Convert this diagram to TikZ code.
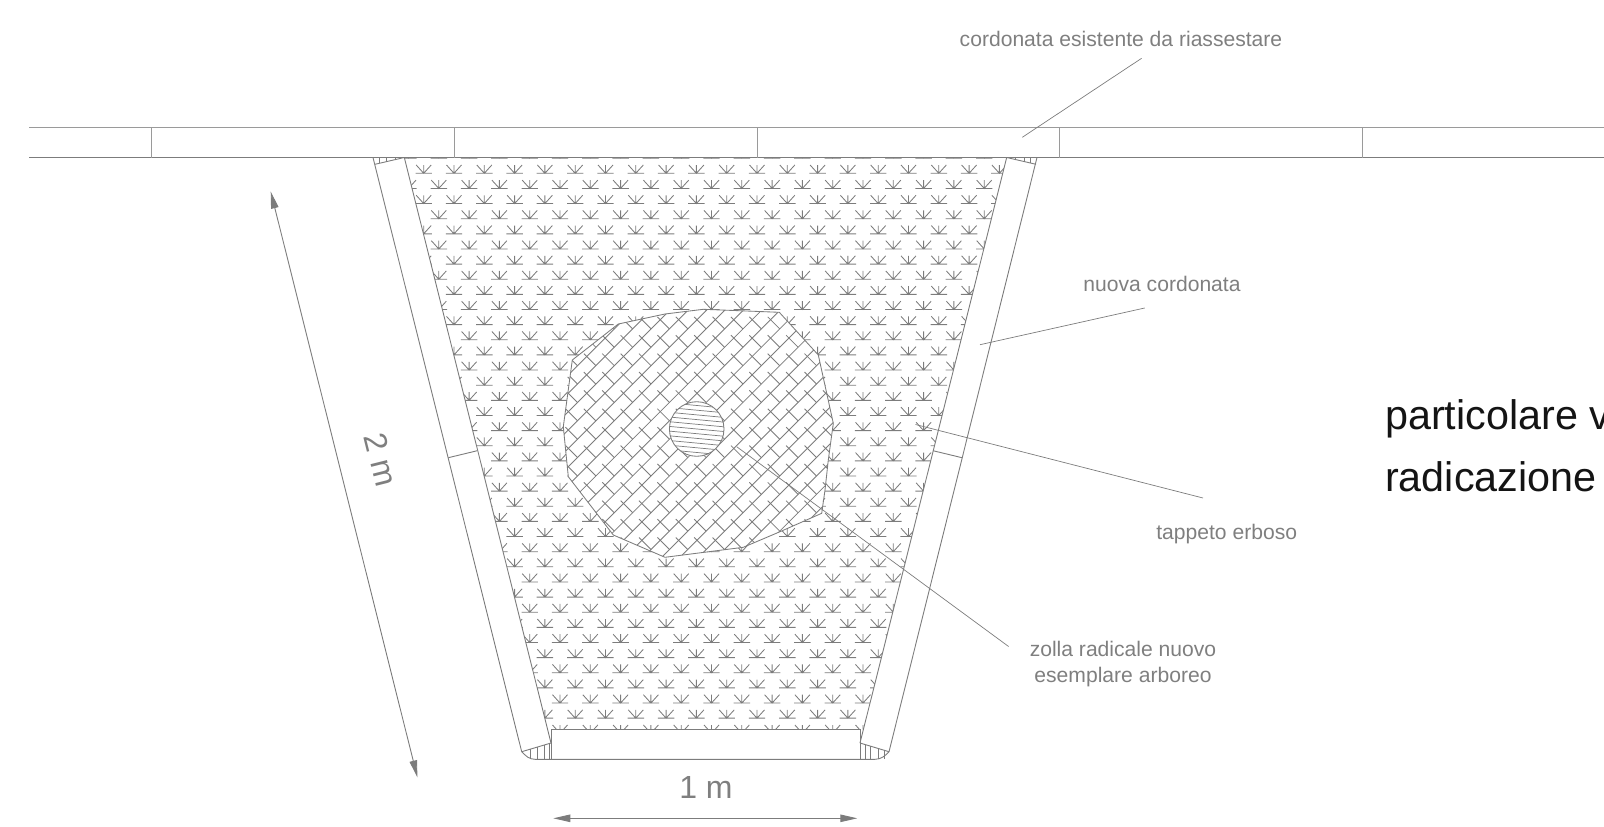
\documentclass[tikz,border=0pt]{standalone}
\usepackage{fontspec}
\setmainfont{Liberation Sans}
\usetikzlibrary{arrows.meta,calc}
\definecolor{ln}{HTML}{7C7C7C}
\definecolor{lnl}{HTML}{9A9A9A}
\definecolor{tx}{HTML}{7F7F7F}
\tikzset{
  wall/.style={draw=ln,line width=0.9pt},
  kerb/.style={draw=lnl,line width=1pt},
  thin/.style={draw=ln,line width=0.85pt},
  grass/.style={draw=ln,line width=0.85pt},
  leader/.style={draw=ln,line width=0.7pt},
  dim/.style={draw=ln,line width=0.9pt,{Triangle[length=17pt,width=7.5pt,fill=ln]}-{Triangle[length=17pt,width=7.5pt,fill=ln]}},
  lab/.style={text=tx,inner sep=0pt,anchor=base,font=\fontsize{21.1}{26}\selectfont},
  big/.style={text=tx,inner sep=0pt,anchor=base,font=\fontsize{32}{38}\selectfont},
  title/.style={text=black!92,inner sep=0pt,anchor=base west,font=\fontsize{41.3}{50}\selectfont},
}
\begin{document}
\begin{tikzpicture}[x=1pt,y=-1pt]
\useasboundingbox (0,0) rectangle (1604,827);
% grass pattern
\begin{scope}
  \clip (404.3,157.5) -- (1006.7,157.5) -- (863.4,729.3) -- (547.6,729.3) -- cycle;
  \foreach \r in {-1,...,37}{
    \pgfmathsetmacro{\yy}{173.3+15.135*\r}
    \pgfmathsetmacro{\xs}{isodd(\r) ? 408.5 : 393.4}
    \foreach \c in {0,...,21}{
      \pgfmathsetmacro{\xx}{\xs+30.3*\c}
      \draw[grass] (\xx-8.2,\yy) -- (\xx+8.2,\yy)
        (\xx-7.5,\yy-8.3) -- (\xx,\yy) -- (\xx+7.5,\yy-8.3)
        (\xx,\yy) -- (\xx,\yy-8.3);
    }
  }
\end{scope}
% root ball
\fill[white] (618.3,324) -- (665,314) -- (703.3,309.3) -- (746.7,311) -- (779.3,312.3) -- (818.3,355) -- (833.3,423.3) -- (828.3,460) -- (825,490) -- (821.7,513.3) -- (780,531.7) -- (743.3,547.3) -- (665,557.3) -- (613.3,535) -- (568.3,476.7) -- (563.3,426.7) -- (572.3,360) -- cycle;
\begin{scope}
  \clip (618.3,324) -- (665,314) -- (703.3,309.3) -- (746.7,311) -- (779.3,312.3) -- (818.3,355) -- (833.3,423.3) -- (828.3,460) -- (825,490) -- (821.7,513.3) -- (780,531.7) -- (743.3,547.3) -- (665,557.3) -- (613.3,535) -- (568.3,476.7) -- (563.3,426.7) -- (572.3,360) -- cycle;
  \begin{scope}[shift={(697,430)},x={(0.7071pt,0.7071pt)},y={(0.7071pt,-0.7071pt)}]
    \foreach \k in {-18,...,18}{
      \pgfmathsetmacro{\v}{\k*13}
      \pgfmathsetmacro{\vv}{(\k+1)*13}
      \draw[thin] (-230,\v) -- (230,\v);
      \foreach \j in {-12,...,12}{
        \pgfmathsetmacro{\u}{\j*26+\k*13}
        \draw[thin] (\u,\v-4) -- (\u,\vv);
      }
    }
  \end{scope}
\end{scope}
\draw[thin] (618.3,324) -- (665,314) -- (703.3,309.3) -- (746.7,311) -- (779.3,312.3) -- (818.3,355) -- (833.3,423.3) -- (828.3,460) -- (825,490) -- (821.7,513.3) -- (780,531.7) -- (743.3,547.3) -- (665,557.3) -- (613.3,535) -- (568.3,476.7) -- (563.3,426.7) -- (572.3,360) -- cycle;
% stem
\coordinate (stem) at (696.7,429);
\fill[white] (stem) circle (27.3);
\begin{scope}
  \clip (stem) circle (27.3);
  \foreach \k in {-7,...,7}{
    \pgfmathsetmacro{\ya}{429+\k*4.7-3}
    \pgfmathsetmacro{\yb}{429+\k*4.7+3}
    \draw[draw=ln,line width=0.7pt] (665,\ya) -- (729,\yb);
  }
\end{scope}
\draw[thin] (stem) circle (27.3);
% existing kerb
\draw[kerb] (29,127) -- (1604,127);
\draw[wall] (29,157.5) -- (1604,157.5);
\foreach \x in {151.4,454,757,1059,1362}{\draw[kerb] (\x,127) -- (\x,157.5);}
% new kerb
\draw[wall] (373,157.5) -- (521.7,751.7);
\draw[wall] (404.3,157.5) -- (551,743);
\draw[wall] (1037,157.5) -- (889,751.7);
\draw[wall] (1006.7,157.5) -- (860,743);
\draw[wall] (375,164.3) -- (404.3,157.5);
\draw[wall] (1036,164.3) -- (1006.7,157.5);
\draw[wall] (521.7,751.7) -- (551,743);
\draw[wall] (889,751.7) -- (860,743);
\draw[wall] (448.3,457.7) -- (477.3,450.7);
\draw[wall] (933,450.7) -- (962,457.7);
% bottom kerb
\draw[wall] (551,729.3) -- (860,729.3) -- (860,759.3);
\draw[wall] (551,729.3) -- (551,759.3);
\draw[wall] (521.7,751.7) .. controls (526,756) and (529,759.3) .. (535,759.3) -- (875,759.3) .. controls (881,759.3) and (885,756) .. (889,751.7);
% end hatches
\foreach \x/\y in {379.3/163.3,386.7/161.6,395/159.7,1015/159.5,1024/161.6,1030.7/163.1}{\draw[thin] (\x,157.5) -- (\x,\y);}
\foreach \x/\y in {530.7/749.1,537.3/747.1,544/745.1,549.3/743.5,865/744.5,870.7/746.2,878/748.4,884/750.2}{\draw[thin] (\x,\y) -- (\x,759.3);}
% dimensions
\coordinate (d2a) at (270.7,191.5);
\coordinate (d2b) at (417.4,777.4);
\coordinate (d1a) at (553.3,818.3);
\coordinate (d1b) at (857.3,818.3);
\draw[dim] (d2a) -- (d2b);
\draw[dim] (d1a) -- (d1b);
\node[big] (m1) at (706,798.3) {1 m};
\node[big,anchor=center,rotate=-76] (m2) at (381,459.5) {2 m};
% labels and leaders
\node[lab] (l1) at (1121,46) {cordonata esistente da riassestare};
\coordinate (l1s) at (1141.6,58.3);
\coordinate (l1e) at (1022.3,137.3);
\draw[leader] (l1s) -- (l1e);
\node[lab] (l2) at (1162,291.5) {nuova cordonata};
\coordinate (l2s) at (1144.7,308);
\coordinate (l2e) at (980,344.7);
\draw[leader] (l2s) -- (l2e);
\node[lab] (l3) at (1226.7,539) {tappeto erboso};
\coordinate (l3s) at (1203,498);
\coordinate (l3e) at (915.5,424.5);
\draw[leader] (l3s) -- (l3e);
\node[lab,anchor=center,align=center] (l4) at (1123,664.5) {zolla radicale nuovo\\esemplare arboreo};
\coordinate (l4s) at (1008.6,646.5);
\coordinate (l4e) at (736.7,446.7);
\draw[leader] (l4s) -- (l4e);
% title
\node[title] (t1) at (1385,429.5) {particolare v};
\node[title] (t2) at (1385,491.2) {radicazione};
\end{tikzpicture}
\end{document}
